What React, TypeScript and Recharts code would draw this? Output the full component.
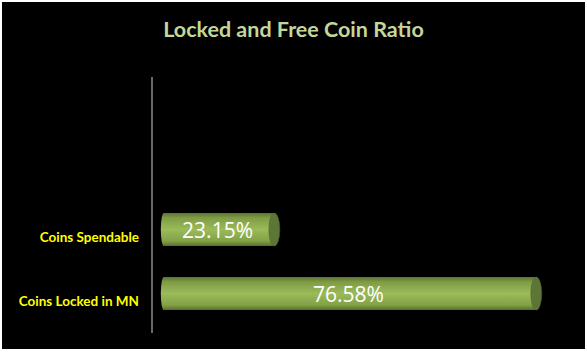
import { Bar, BarChart, LabelList, XAxis, YAxis } from "recharts"

const categories = ["Coins Spendable", "Coins Locked in MN"]
const ratios = [23.15, 76.58]
const title = "Locked and Free Coin Ratio"

const data = categories.map((name, i) => ({ name, ratio: ratios[i] }))

// 3D offset of the bars relative to the category band
const LIFT = 8

function Cylinder(props: any) {
  const { x, y, width, height } = props
  if (width == null || width <= 0) return null
  const top = y - LIFT
  const ry = height / 2
  const cy = top + ry
  return (
    <g>
      <rect x={x + 3} y={top} width={width - 3} height={height} fill="url(#cyl)" />
      <ellipse cx={x + 3} cy={cy} rx={3} ry={ry} fill="url(#cyl)" />
      <ellipse cx={x + width} cy={cy} rx={5.5} ry={ry} fill="#5d7536" stroke="#4f6530" strokeWidth={0.5} />
    </g>
  )
}

function ValueLabel(props: any) {
  const { x, y, width, height, value } = props
  return (
    <text
      x={x + width / 2}
      y={y - LIFT + height / 2}
      textAnchor="middle"
      dominantBaseline="central"
      fill="#ffffff"
      fontSize={21}
      fontFamily="'Open Sans', sans-serif"
    >
      {value.toFixed(2)}%
    </text>
  )
}

function CategoryTick(props: any) {
  const { x, y, payload } = props
  return (
    <text
      x={x - 5}
      y={y}
      textAnchor="end"
      dominantBaseline="central"
      fill="#ffff00"
      fontSize={13.5}
      fontWeight="bold"
      fontFamily="Lato, sans-serif"
    >
      {payload.value}
    </text>
  )
}

export default function App() {
  return (
    <div style={{ position: "absolute", left: 0, top: 0, width: 587, height: 352, background: "#ffffff" }}>
      <div style={{ position: "absolute", left: 2, top: 2, width: 583, height: 347, background: "#000000" }}>
        <div
          style={{
            position: "absolute",
            left: 0,
            top: 14,
            width: 583,
            textAlign: "center",
            color: "#c3d69b",
            fontSize: 21.5,
            fontWeight: "bold",
            fontFamily: "Lato, sans-serif",
          }}
        >
          {title}
        </div>
        <BarChart
          width={583}
          height={347}
          data={data}
          layout="vertical"
          margin={{ top: 75, right: 32, bottom: 16, left: 0 }}
        >
          <defs>
            <linearGradient id="cyl" x1="0" y1="0" x2="0" y2="1">
              <stop offset="0%" stopColor="#5a7330" />
              <stop offset="15%" stopColor="#7f9c45" />
              <stop offset="50%" stopColor="#9bbb59" />
              <stop offset="85%" stopColor="#83a047" />
              <stop offset="100%" stopColor="#55702c" />
            </linearGradient>
          </defs>
          <XAxis type="number" domain={[-1.8, 80]} hide />
          <YAxis
            type="category"
            dataKey="name"
            width={150}
            padding={{ top: 128, bottom: 0 }}
            axisLine={{ stroke: "#8c8c8c", strokeWidth: 1.5 }}
            tickLine={false}
            tick={<CategoryTick />}
          />
          <Bar dataKey="ratio" barSize={33} shape={<Cylinder />} isAnimationActive={false}>
            <LabelList dataKey="ratio" content={<ValueLabel />} />
          </Bar>
        </BarChart>
      </div>
    </div>
  )
}
